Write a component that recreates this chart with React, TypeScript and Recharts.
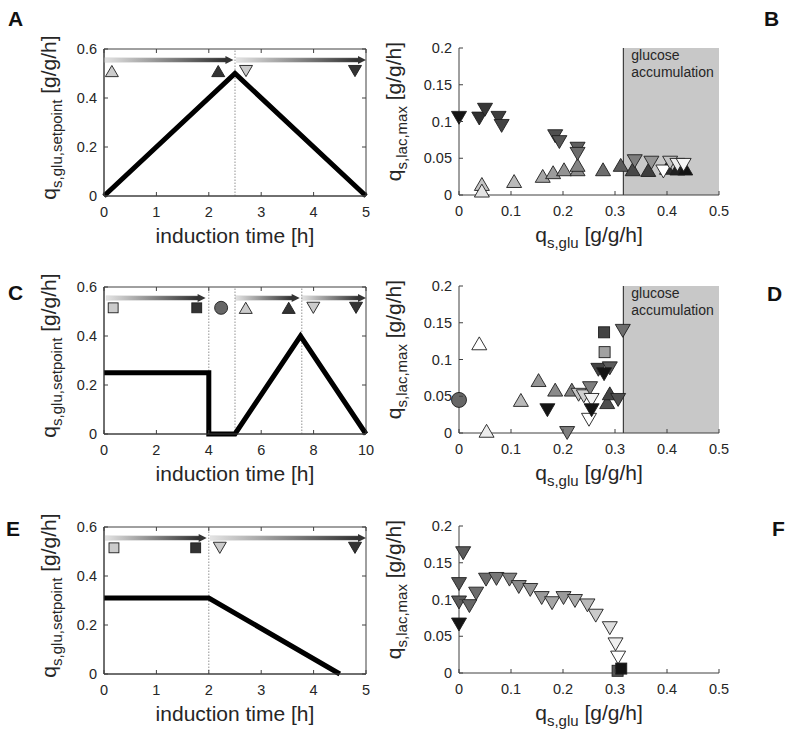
import React from 'react';
import { ComposedChart, Line, Scatter, XAxis, YAxis, ReferenceArea, ReferenceLine, Label } from 'recharts';

const AXIS = '#404040';
const TEXT = '#262626';
const FONT = '"Liberation Sans", Arial, Helvetica, sans-serif';
const PLOT_H = 147;

// shade: 0 = white (start of a phase) ... 1 = black (end of a phase)
const grey = (s: number) => {
  const v = Math.round(255 - s * 235);
  return `rgb(${v},${v},${v})`;
};

// ---- panel A: ramp up / ramp down ----
const profileA = [{ t: 0, q: 0 }, { t: 2.5, q: 0.5 }, { t: 5, q: 0 }];
const keyA = [
  { t: 0.15, q: 0.51, kind: 'up', s: 0.22 },
  { t: 2.18, q: 0.51, kind: 'up', s: 0.87 },
  { t: 2.71, q: 0.51, kind: 'down', s: 0.22 },
  { t: 4.79, q: 0.51, kind: 'down', s: 0.87 },
];
const arrowsA = [[0, 2.47], [2.53, 5]];
const splitsA = [2.5];
const ticksA = [0, 1, 2, 3, 4, 5];

// ---- panel C: step, pause, ramp up / down ----
const profileC = [{ t: 0, q: 0.25 }, { t: 4, q: 0.25 }, { t: 4, q: 0 }, { t: 5, q: 0 }, { t: 7.5, q: 0.4 }, { t: 10, q: 0 }];
const keyC = [
  { t: 0.35, q: 0.515, kind: 'square', s: 0.22 },
  { t: 3.54, q: 0.515, kind: 'square', s: 0.87 },
  { t: 4.47, q: 0.515, kind: 'circle', s: 0.65 },
  { t: 5.41, q: 0.515, kind: 'up', s: 0.22 },
  { t: 7.05, q: 0.515, kind: 'up', s: 0.87 },
  { t: 7.99, q: 0.515, kind: 'down', s: 0.22 },
  { t: 9.62, q: 0.515, kind: 'down', s: 0.87 },
];
const arrowsC = [[0.08, 3.88], [5.02, 7.47], [7.55, 10]];
const splitsC = [4, 5, 7.55];
const ticksC = [0, 2, 4, 6, 8, 10];

// ---- panel E: constant then ramp down ----
const profileE = [{ t: 0, q: 0.31 }, { t: 2, q: 0.31 }, { t: 4.5, q: 0 }];
const keyE = [
  { t: 0.19, q: 0.515, kind: 'square', s: 0.22 },
  { t: 1.75, q: 0.515, kind: 'square', s: 0.87 },
  { t: 2.21, q: 0.515, kind: 'down', s: 0.22 },
  { t: 4.79, q: 0.515, kind: 'down', s: 0.87 },
];
const arrowsE = [[0.02, 1.96], [2.03, 5]];
const splitsE = [2];

const setpointTicks = [0, 0.2, 0.4, 0.6];
const qsTicks = [0, 0.1, 0.2, 0.3, 0.4, 0.5];
const lacTicks = [0, 0.05, 0.1, 0.15, 0.2];
const accumulationStart = 0.316;

// ---- panel B ----
const upsB = [
  { x: 0.044, y: 0.015, s: 0.25 }, { x: 0.044, y: 0.006, s: 0.12 }, { x: 0.106, y: 0.019, s: 0.3 },
  { x: 0.161, y: 0.026, s: 0.38 }, { x: 0.181, y: 0.031, s: 0.42 }, { x: 0.202, y: 0.035, s: 0.46 },
  { x: 0.228, y: 0.035, s: 0.5 }, { x: 0.228, y: 0.041, s: 0.52 }, { x: 0.277, y: 0.035, s: 0.62 },
  { x: 0.311, y: 0.041, s: 0.7 }, { x: 0.334, y: 0.035, s: 0.78 }, { x: 0.364, y: 0.034, s: 0.82 },
  { x: 0.4, y: 0.037, s: 0.9 }, { x: 0.42, y: 0.036, s: 0.95 }, { x: 0.435, y: 0.036, s: 1.0 },
];
const downsB = [
  { x: 0.0, y: 0.105, s: 1.0 }, { x: 0.039, y: 0.104, s: 0.88 }, { x: 0.05, y: 0.116, s: 0.85 },
  { x: 0.076, y: 0.105, s: 0.82 }, { x: 0.082, y: 0.094, s: 0.8 }, { x: 0.185, y: 0.08, s: 0.75 },
  { x: 0.193, y: 0.072, s: 0.72 }, { x: 0.228, y: 0.063, s: 0.68 }, { x: 0.228, y: 0.056, s: 0.62 },
  { x: 0.338, y: 0.046, s: 0.55 }, { x: 0.37, y: 0.044, s: 0.45 }, { x: 0.393, y: 0.032, s: 0.0 },
  { x: 0.406, y: 0.044, s: 0.25 }, { x: 0.42, y: 0.041, s: 0.08 }, { x: 0.432, y: 0.041, s: 0.04 },
];

// ---- panel D ----
const circlesD = [{ x: 0.0, y: 0.045, s: 0.65 }];
const squaresD = [{ x: 0.279, y: 0.137, s: 0.8 }, { x: 0.28, y: 0.11, s: 0.4 }];
const upsD = [
  { x: 0.039, y: 0.122, s: 0.0 }, { x: 0.053, y: 0.003, s: 0.08 }, { x: 0.119, y: 0.045, s: 0.3 },
  { x: 0.153, y: 0.072, s: 0.45 }, { x: 0.185, y: 0.059, s: 0.5 }, { x: 0.217, y: 0.059, s: 0.55 },
  { x: 0.285, y: 0.042, s: 0.75 }, { x: 0.29, y: 0.054, s: 0.8 },
];
const downsD = [
  { x: 0.208, y: 0.0, s: 0.55 }, { x: 0.17, y: 0.031, s: 1.0 }, { x: 0.23, y: 0.052, s: 0.25 },
  { x: 0.24, y: 0.05, s: 0.2 }, { x: 0.252, y: 0.061, s: 0.55 }, { x: 0.255, y: 0.045, s: 0.05 },
  { x: 0.25, y: 0.018, s: 0.0 }, { x: 0.255, y: 0.031, s: 1.0 }, { x: 0.268, y: 0.086, s: 0.8 },
  { x: 0.29, y: 0.088, s: 0.7 }, { x: 0.279, y: 0.08, s: 1.0 }, { x: 0.306, y: 0.045, s: 0.75 },
  { x: 0.315, y: 0.139, s: 0.62 },
];

// ---- panel F ----
const downsF = [
  { x: 0.008, y: 0.163, s: 0.7 }, { x: 0.0, y: 0.121, s: 0.72 }, { x: 0.0, y: 0.096, s: 0.7 },
  { x: 0.02, y: 0.091, s: 0.65 }, { x: 0.033, y: 0.108, s: 0.62 }, { x: 0.0, y: 0.066, s: 1.0 },
  { x: 0.052, y: 0.127, s: 0.62 }, { x: 0.072, y: 0.128, s: 0.58 }, { x: 0.097, y: 0.127, s: 0.52 },
  { x: 0.115, y: 0.117, s: 0.5 }, { x: 0.137, y: 0.113, s: 0.45 }, { x: 0.159, y: 0.102, s: 0.43 },
  { x: 0.179, y: 0.095, s: 0.38 }, { x: 0.201, y: 0.102, s: 0.43 }, { x: 0.223, y: 0.098, s: 0.36 },
  { x: 0.247, y: 0.092, s: 0.3 }, { x: 0.263, y: 0.078, s: 0.22 }, { x: 0.29, y: 0.061, s: 0.14 },
  { x: 0.301, y: 0.039, s: 0.07 }, { x: 0.306, y: 0.021, s: 0.0 },
];
const squaresF = [{ x: 0.305, y: 0.003, s: 0.72 }, { x: 0.312, y: 0.006, s: 1.0 }];

const Marker = ({ cx, cy, kind, s, w }: any) => {
  const fill = grey(s);
  const h = w * 0.43;
  const st = { fill, stroke: '#1e1e1e', strokeWidth: 0.9 };
  if (kind === 'up') return <polygon points={`${cx},${cy - h} ${cx + w / 2},${cy + h} ${cx - w / 2},${cy + h}`} {...st} />;
  if (kind === 'down') return <polygon points={`${cx},${cy + h} ${cx + w / 2},${cy - h} ${cx - w / 2},${cy - h}`} {...st} />;
  if (kind === 'square') return <rect x={cx - w * 0.38} y={cy - w * 0.38} width={w * 0.76} height={w * 0.76} {...st} />;
  return <circle cx={cx} cy={cy} r={w * 0.5} {...st} />;
};

const keyShape = (p: any) => <Marker cx={p.cx} cy={p.cy} kind={p.payload.kind} s={p.payload.s} w={13} />;
const shapeOf = (kind: string, w: number) => (p: any) => <Marker cx={p.cx} cy={p.cy} kind={kind} s={p.payload.s} w={w} />;

const arrowShape = (p: any) => {
  const { x, y, width, height } = p;
  const cy = y + height / 2;
  const head = 8;
  return (
    <g>
      <rect x={x} y={cy - 2.2} width={Math.max(width - head + 1, 0)} height={4.4} fill="url(#arrowGrad)" stroke="#d8d8d8" strokeWidth={0.5} />
      <polygon points={`${x + width},${cy} ${x + width - head},${cy - 4} ${x + width - head},${cy + 4}`} fill="#333" />
    </g>
  );
};

const xTick = (plotH: number, box: boolean) => (p: any) => (
  <g>
    <line x1={p.x} x2={p.x} y1={p.y} y2={p.y - 4} stroke={AXIS} />
    {box && <line x1={p.x} x2={p.x} y1={p.y - plotH} y2={p.y - plotH + 4} stroke={AXIS} />}
    <text x={p.x} y={p.y + 21} textAnchor="middle" fill={TEXT} fontSize={14.5} fontFamily={FONT}>{String(p.payload.value)}</text>
  </g>
);

const yTick = (plotW: number, box: boolean) => (p: any) => (
  <g>
    <line x1={p.x} x2={p.x + 4} y1={p.y} y2={p.y} stroke={AXIS} />
    {box && <line x1={p.x + plotW} x2={p.x + plotW - 4} y1={p.y} y2={p.y} stroke={AXIS} />}
    <text x={p.x - 7} y={p.y + 5} textAnchor="end" fill={TEXT} fontSize={14.5} fontFamily={FONT}>{String(p.payload.value)}</text>
  </g>
);

const xLabel = (main: string, sub: string, rest: string) => (p: any) => {
  const vb = p.viewBox;
  return (
    <text x={vb.x + vb.width / 2} y={vb.y + 47} textAnchor="middle" fill={TEXT} fontSize={21} fontFamily={FONT}>
      {main}
      {sub && <tspan dy={6} fontSize={15}>{sub}</tspan>}
      <tspan dy={sub ? -6 : 0}>{rest}</tspan>
    </text>
  );
};

const yLabel = (sub: string, dx: number, dy: number) => (p: any) => {
  const vb = p.viewBox;
  const bx = vb.x + dx;
  const cy = vb.y + vb.height / 2 + dy;
  return (
    <text x={bx} y={cy} transform={`rotate(-90, ${bx}, ${cy})`} textAnchor="middle" fill={TEXT} fontSize={21} fontFamily={FONT}>
      q<tspan dy={6} fontSize={15}>{sub}</tspan>
      <tspan dy={-6}> [g/g/h]</tspan>
    </text>
  );
};

const accLabel = (p: any) => {
  const vb = p.viewBox;
  return (
    <text x={vb.x + 8} y={vb.y + 12} fill={TEXT} fontSize={14} fontFamily={FONT}>
      <tspan x={vb.x + 8}>glucose</tspan>
      <tspan x={vb.x + 8} dy={17}>accumulation</tspan>
    </text>
  );
};

const TimePanel = ({ left, top, profile, keys, arrows, splits, xMax, xTicks }: any) => (
  <div style={{ position: 'absolute', left, top }}>
    <ComposedChart width={380} height={230} margin={{ top: 20, right: 14, bottom: 0, left: 44 }}>
      <XAxis type="number" dataKey="t" domain={[0, xMax]} ticks={xTicks} interval={0}
        tickSize={0} tickMargin={0} tickLine={false} axisLine={{ stroke: AXIS }} height={63} tick={xTick(PLOT_H, true)}>
        <Label content={xLabel('induction time [h]', '', '')} />
      </XAxis>
      <YAxis type="number" dataKey="q" domain={[0, 0.6]} ticks={setpointTicks} interval={0}
        tickSize={0} tickMargin={0} tickLine={false} axisLine={{ stroke: AXIS }} width={60} tick={yTick(262, true)}>
        <Label content={yLabel('s,glu,setpoint', 12, -5)} />
      </YAxis>
      <ReferenceArea x1={0} x2={xMax} y1={0} y2={0.6} fill="none" stroke={AXIS} strokeWidth={1} />
      {splits.map((d: number, i: number) => (
        <ReferenceLine key={'s' + i} x={d} stroke="#777" strokeWidth={0.8} strokeDasharray="1.5 1.5" />
      ))}
      {arrows.map((a: number[], i: number) => (
        <ReferenceArea key={'a' + i} x1={a[0]} x2={a[1]} y1={0.553} y2={0.557} shape={arrowShape} />
      ))}
      <Line data={profile} dataKey="q" type="linear" stroke="#000" strokeWidth={5} dot={false} activeDot={false} isAnimationActive={false} />
      <Scatter data={keys} dataKey="q" shape={keyShape} isAnimationActive={false} />
    </ComposedChart>
  </div>
);

const ScatterPanel = ({ left, top, accumulation, ups, downs, squares, circles }: any) => (
  <div style={{ position: 'absolute', left, top }}>
    <ComposedChart width={407} height={230} margin={{ top: 20, right: 68, bottom: 0, left: 19 }}>
      <XAxis type="number" dataKey="x" domain={[0, 0.5]} ticks={qsTicks} interval={0}
        tickSize={0} tickMargin={0} tickLine={false} axisLine={{ stroke: AXIS }} height={63} tick={xTick(PLOT_H, false)}>
        <Label content={xLabel('q', 's,glu', ' [g/g/h]')} />
      </XAxis>
      <YAxis type="number" dataKey="y" domain={[0, 0.2]} ticks={lacTicks} interval={0}
        tickSize={0} tickMargin={0} tickLine={false} axisLine={{ stroke: AXIS }} width={60} tick={yTick(260, false)}>
        <Label content={yLabel('s,lac,max', 2, -10)} />
      </YAxis>
      {accumulation && (
        <ReferenceArea x1={accumulationStart} x2={0.5} y1={0} y2={0.2} fill="#c8c8c8" fillOpacity={1} stroke="none">
          <Label content={accLabel} />
        </ReferenceArea>
      )}
      {accumulation && <ReferenceLine x={accumulationStart} stroke="#1e1e1e" strokeWidth={1} />}
      {circles && <Scatter data={circles} dataKey="y" shape={shapeOf('circle', 15)} isAnimationActive={false} />}
      {ups && <Scatter data={ups} dataKey="y" shape={shapeOf('up', 15)} isAnimationActive={false} />}
      {downs && <Scatter data={downs} dataKey="y" shape={shapeOf('down', 15)} isAnimationActive={false} />}
      {squares && <Scatter data={squares} dataKey="y" shape={shapeOf('square', 14.5)} isAnimationActive={false} />}
    </ComposedChart>
  </div>
);

const letters = [
  { t: 'A', x: 8, y: 26 }, { t: 'B', x: 764, y: 26 },
  { t: 'C', x: 8, y: 300 }, { t: 'D', x: 767, y: 301 },
  { t: 'E', x: 6, y: 536 }, { t: 'F', x: 772, y: 536 },
];

export default function App() {
  return (
    <div style={{ position: 'absolute', left: 0, top: 0, width: 787, height: 739, background: '#fff', overflow: 'hidden' }}>
      <svg width={0} height={0} style={{ position: 'absolute' }}>
        <defs>
          <linearGradient id="arrowGrad" x1="0" y1="0" x2="1" y2="0">
            <stop offset="0" stopColor="#e4e4e4" />
            <stop offset="1" stopColor="#2e2e2e" />
          </linearGradient>
        </defs>
      </svg>
      <TimePanel left={0} top={29} profile={profileA} keys={keyA} arrows={arrowsA} splits={splitsA} xMax={5} xTicks={ticksA} />
      <ScatterPanel left={380} top={28} accumulation ups={upsB} downs={downsB} />
      <TimePanel left={0} top={267} profile={profileC} keys={keyC} arrows={arrowsC} splits={splitsC} xMax={10} xTicks={ticksC} />
      <ScatterPanel left={380} top={266} accumulation circles={circlesD} ups={upsD} downs={downsD} squares={squaresD} />
      <TimePanel left={0} top={507} profile={profileE} keys={keyE} arrows={arrowsE} splits={splitsE} xMax={5} xTicks={ticksA} />
      <ScatterPanel left={380} top={506} downs={downsF} squares={squaresF} />
      <svg width={787} height={739} style={{ position: 'absolute', left: 0, top: 0, pointerEvents: 'none' }}>
        {letters.map((l) => (
          <text key={l.t} x={l.x} y={l.y} fontSize={21} fontWeight="bold" fill="#111" fontFamily={FONT}>{l.t}</text>
        ))}
      </svg>
    </div>
  );
}
